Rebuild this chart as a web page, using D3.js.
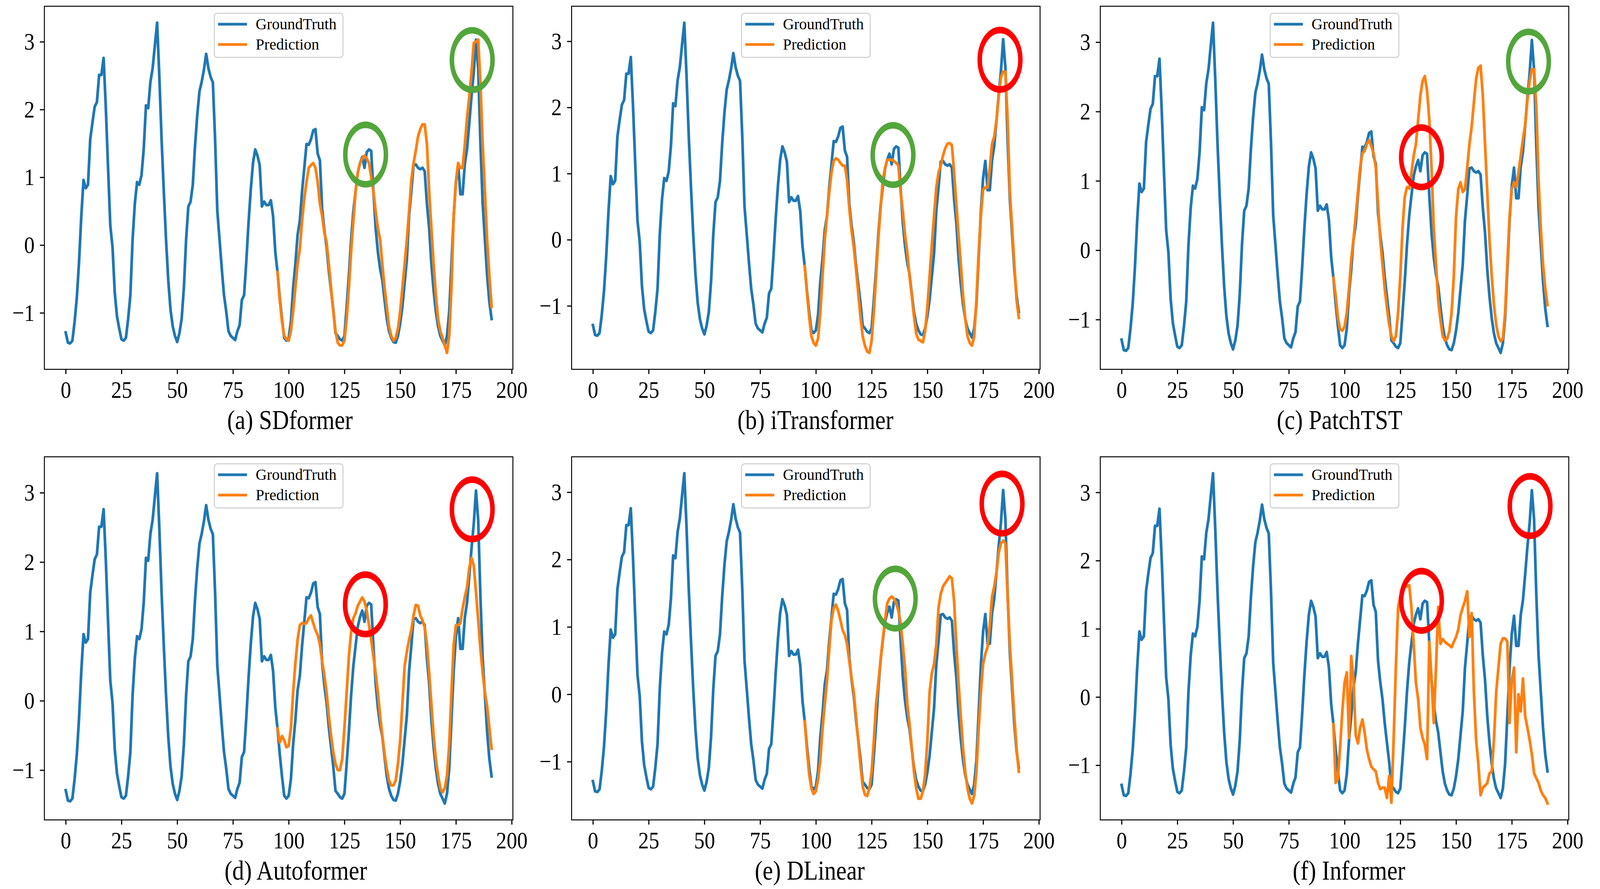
<!DOCTYPE html>
<html><head><meta charset="utf-8">
<script src="https://cdn.jsdelivr.net/npm/d3@7"></script>
<style>html,body{margin:0;padding:0;background:#fff;overflow:hidden}#c{display:block;width:100vw;height:100vh}</style>
</head><body><svg id="c" viewBox="0 0 4252 2277" preserveAspectRatio="none"></svg>
<script>
// ---------------- DATA ----------------
const groundTruth = [
-1.29,-1.44,-1.45,-1.41,-1.13,-0.77,-0.24,0.43,0.96,0.84,
0.89,1.56,1.81,2.04,2.11,2.51,2.51,2.76,2.02,1.14,
0.29,-0.03,-0.70,-1.05,-1.23,-1.39,-1.41,-1.37,-1.09,-0.74,
0.08,0.61,0.93,0.89,1.03,1.42,2.06,2.02,2.41,2.61,
2.95,3.28,2.48,1.56,0.79,0.08,-0.52,-0.95,-1.20,-1.34,
-1.43,-1.30,-1.09,-0.63,0.08,0.57,0.64,0.89,1.46,1.92,
2.27,2.41,2.59,2.82,2.61,2.48,2.40,1.56,0.50,0.08,
-0.35,-0.74,-0.98,-1.27,-1.34,-1.37,-1.40,-1.27,-1.18,-0.81,
-0.74,-0.24,0.33,0.82,1.21,1.41,1.32,1.18,0.57,0.64,
0.59,0.59,0.66,0.43,-0.10,-0.40,-0.77,-1.09,-1.37,-1.41,
-1.37,-1.13,-0.63,-0.28,0.15,0.36,0.79,1.14,1.49,1.48,
1.56,1.69,1.71,1.35,1.25,0.54,0.22,-0.03,-0.38,-0.67,
-0.95,-1.30,-1.34,-1.39,-1.41,-1.34,-0.91,-0.45,0.08,0.50,
0.79,1.07,1.21,1.30,1.14,1.37,1.41,1.39,0.79,0.25,
-0.10,-0.35,-0.52,-0.81,-1.09,-1.27,-1.37,-1.43,-1.44,-1.34,
-1.16,-0.91,-0.56,-0.21,0.43,0.79,1.18,1.19,1.14,1.12,
1.14,1.09,0.61,0.25,-0.28,-0.67,-0.98,-1.20,-1.34,-1.41,
-1.48,-1.34,-0.98,-0.28,0.43,0.93,1.19,0.75,0.75,1.20,
1.42,1.80,2.20,2.55,3.03,2.60,1.49,0.61,0.08,-0.45,
-0.84,-1.09
];

// predictions start at time step 95 (last input value) and run to 191
const predStart = 95;

const predSDformer = [
-0.40,-0.81,-1.13,-1.34,-1.39,
-1.41,-1.27,-0.98,-0.63,-0.28,-0.06,0.36,0.68,0.93,1.14,
1.18,1.21,1.14,0.93,0.61,0.43,0.18,0.04,-0.28,-0.63,
-0.98,-1.27,-1.44,-1.48,-1.48,-1.41,-1.09,-0.63,-0.10,0.36,
0.79,1.07,1.21,1.28,1.32,1.28,1.21,1.00,0.79,0.50,
0.25,0.08,-0.28,-0.63,-0.91,-1.20,-1.34,-1.41,-1.37,-1.23,
-0.98,-0.63,-0.28,0.08,0.50,0.96,1.21,1.39,1.60,1.71,
1.78,1.78,1.49,0.79,0.25,-0.28,-0.74,-1.09,-1.27,-1.37,
-1.48,-1.59,-1.34,-0.63,0.43,0.93,1.21,1.14,1.14,1.49,
1.88,2.20,2.56,2.98,3.00,3.03,2.38,1.49,0.79,0.08,
-0.45,-0.91
];

const predITransformer = [
-0.40,-0.80,-1.16,-1.46,-1.56,
-1.60,-1.49,-1.09,-0.55,0.00,0.36,0.72,1.01,1.19,1.23,
1.21,1.16,1.12,1.12,0.90,0.47,0.14,-0.11,-0.44,-0.80,
-1.16,-1.46,-1.60,-1.69,-1.71,-1.53,-1.09,-0.55,0.00,0.47,
0.90,1.08,1.21,1.21,1.21,1.19,1.16,1.12,0.72,0.43,
0.07,-0.19,-0.55,-0.84,-1.16,-1.42,-1.51,-1.53,-1.55,-1.38,
-1.02,-0.55,-0.08,0.36,0.79,1.01,1.12,1.27,1.38,1.45,
1.46,1.43,1.01,0.54,0.07,-0.37,-0.84,-1.20,-1.46,-1.56,
-1.60,-1.46,-0.91,-0.19,0.36,0.76,0.79,0.79,1.08,1.45,
1.56,1.81,2.17,2.46,2.54,2.54,1.81,0.72,0.18,-0.37,
-0.91,-1.18
];

const predPatchTST = [
-0.40,-0.65,-0.97,-1.14,-1.16,
-1.10,-0.90,-0.55,-0.13,0.15,0.49,0.84,1.19,1.40,1.43,
1.53,1.59,1.50,1.40,1.19,0.67,0.15,-0.20,-0.55,-0.83,
-1.07,-1.24,-1.31,-1.24,-0.90,-0.37,0.32,0.77,0.91,0.89,
1.12,1.36,1.53,1.88,2.23,2.44,2.51,2.30,1.88,1.19,
0.32,-0.20,-0.72,-1.00,-1.24,-1.30,-1.28,-1.17,-0.90,-0.37,
0.49,0.88,0.98,0.84,0.88,1.19,1.53,1.78,2.13,2.47,
2.63,2.66,2.23,1.53,0.84,0.15,-0.37,-0.79,-1.07,-1.24,
-1.31,-1.28,-0.90,-0.20,0.49,0.88,0.98,0.91,1.12,1.36,
1.60,1.81,2.16,2.44,2.61,2.61,2.06,1.01,0.32,-0.20,
-0.55,-0.79
];

const predAutoformer = [
-0.40,-0.60,-0.51,-0.57,-0.67,
-0.65,-0.39,0.12,0.54,0.88,1.09,1.12,1.11,1.12,1.19,
1.23,1.12,1.02,0.95,0.81,0.57,0.37,0.12,-0.22,-0.50,
-0.74,-0.91,-1.00,-1.00,-0.84,-0.39,0.12,0.64,0.99,1.19,
1.26,1.37,1.43,1.49,1.43,1.30,1.09,0.88,0.64,0.40,
0.12,-0.22,-0.50,-0.77,-0.98,-1.15,-1.22,-1.22,-1.15,-0.91,
-0.57,-0.05,0.50,0.71,0.88,1.02,1.23,1.38,1.37,1.23,
1.16,1.06,0.81,0.40,-0.05,-0.50,-0.84,-1.08,-1.26,-1.32,
-1.26,-1.08,-0.63,0.12,0.81,1.09,1.09,1.12,1.33,1.50,
1.64,1.92,2.06,1.95,1.57,1.16,0.74,0.40,0.12,-0.08,
-0.39,-0.69
];

const predDLinear = [
-0.40,-0.83,-1.19,-1.40,-1.48,
-1.44,-1.26,-0.98,-0.51,-0.15,0.20,0.67,1.10,1.28,1.33,
1.24,1.10,0.95,0.88,0.74,0.49,0.24,0.03,-0.33,-0.69,
-1.05,-1.37,-1.49,-1.51,-1.40,-1.15,-0.69,-0.15,0.17,0.49,
0.81,1.10,1.35,1.42,1.45,1.42,1.35,1.24,1.06,0.74,
0.38,-0.15,-0.44,-0.80,-1.15,-1.40,-1.55,-1.55,-1.44,-1.19,
-0.69,0.03,0.31,0.45,0.74,1.28,1.49,1.60,1.65,1.70,
1.75,1.72,1.38,0.74,0.17,-0.33,-0.80,-1.15,-1.40,-1.55,
-1.62,-1.51,-1.15,-0.51,0.03,0.45,0.60,0.70,1.03,1.45,
1.60,1.81,2.10,2.24,2.28,2.24,1.45,0.74,0.20,-0.33,
-0.80,-1.15
];

const predInformer = [
-0.40,-1.26,-1.20,-0.74,-0.21,
0.21,0.36,-0.60,0.60,0.25,-0.56,-0.68,-0.45,-0.33,-0.52,
-0.77,-0.91,-1.02,-1.06,-1.09,-1.26,-1.35,-1.33,-1.33,-1.48,
-1.16,-1.55,-0.63,0.43,1.31,1.48,1.55,1.62,1.62,1.64,
1.31,0.78,0.21,-0.03,-0.45,-0.60,-0.70,-0.91,0.81,0.25,
-0.38,0.43,1.32,0.78,0.85,0.81,0.78,0.76,0.73,0.81,
0.88,0.99,1.20,1.31,1.41,1.55,0.88,1.23,0.07,-0.63,
-0.98,-1.44,-1.33,-1.30,-1.26,-1.12,-1.09,-0.63,0.07,0.43,
0.78,0.86,0.86,0.81,-0.38,0.25,0.43,-0.81,0.04,-0.21,
0.27,-0.28,-0.45,-0.63,-0.84,-1.12,-1.19,-1.26,-1.37,-1.44,
-1.48,-1.56
];

const panelTitles = ["(a) SDformer","(b) iTransformer","(c) PatchTST","(d) Autoformer","(e) DLinear","(f) Informer"];
const panelPredictions = [predSDformer,predITransformer,predPatchTST,predAutoformer,predDLinear,predInformer];
const legendLabels = ["GroundTruth","Prediction"];
const xTicks = [0,25,50,75,100,125,150,175,200];
const yTicks = [-1,0,1,2,3];

// highlight circles: [time step, value, verdict]
const circlesA = [[134.5,1.335,"good"],[182.3,2.73,"good"]];
const circlesB = [[134.6,1.28,"good"],[182.6,2.72,"bad"]];
const circlesC = [[134.5,1.34,"bad"],[182.5,2.72,"good"]];
const circlesD = [[134.4,1.39,"bad"],[182.3,2.76,"bad"]];
const circlesE = [[135.6,1.42,"good"],[183.5,2.83,"bad"]];
const circlesF = [[134.5,1.41,"bad"],[183.2,2.80,"bad"]];
const panelCircles = [circlesA,circlesB,circlesC,circlesD,circlesE,circlesF];

// ---------------- LAYOUT / STYLE ----------------
const colLeft = [118, 1519, 2924];
const rowTop = [16, 1170];
const axW = 1245, axH = 930;
const captionX = [770.5, 2167, 3560, 786, 2152, 3585];
const captionOffset = 1083; // baseline below row top
const FONT = "'Liberation Serif','Times New Roman',serif";
const C_GT = "#1f77b4", C_PR = "#ff7f0e";
const C_GOOD = "#52a63a", C_BAD = "#ff0000";
const LW = 7.2;

const svg = d3.select("#c");
svg.append("rect").attr("width",4252).attr("height",2277).attr("fill","#fff");

panelPredictions.forEach((pred, p) => {
  const left = colLeft[p % 3], top = rowTop[Math.floor(p / 3)];
  const g = svg.append("g");

  const all = groundTruth.concat(pred);
  const lo = d3.min(all), hi = d3.max(all), pad = 0.05 * (hi - lo);
  const x = d3.scaleLinear().domain([-9.55, 200.55]).range([left, left + axW]);
  const y = d3.scaleLinear().domain([lo - pad, hi + pad]).range([top + axH, top]);

  // axes
  const xa = g.append("g").attr("transform", `translate(0,${top + axH})`)
    .call(d3.axisBottom(x).tickValues(xTicks).tickSize(12).tickPadding(17).tickFormat(d3.format("d")));
  const ya = g.append("g").attr("transform", `translate(${left},0)`)
    .call(d3.axisLeft(y).tickValues(yTicks).tickSize(12).tickPadding(14).tickFormat(d3.format("d")));
  [xa, ya].forEach(a => {
    a.select(".domain").remove();
    a.selectAll(".tick line").attr("stroke", "#000").attr("stroke-width", 3);
    a.selectAll(".tick text").attr("fill", "#000").style("font-family", FONT).style("font-size", "62px");
  });
  xa.selectAll(".tick text").attr("transform", "scale(0.9,1)");
  ya.selectAll(".tick text").attr("x", -26 / 0.9).attr("transform", "scale(0.9,1)");

  // lines
  const lineGT = d3.line().x((d, i) => x(i)).y(d => y(d));
  const linePR = d3.line().x((d, i) => x(predStart + i)).y(d => y(d));
  g.append("path").datum(groundTruth).attr("d", lineGT).attr("fill", "none")
    .attr("stroke", C_GT).attr("stroke-width", LW).attr("stroke-linejoin", "round").attr("stroke-linecap", "square");
  g.append("path").datum(pred).attr("d", linePR).attr("fill", "none")
    .attr("stroke", C_PR).attr("stroke-width", LW).attr("stroke-linejoin", "round").attr("stroke-linecap", "square");

  // frame
  g.append("rect").attr("x", left).attr("y", top).attr("width", axW).attr("height", axH)
    .attr("fill", "none").attr("stroke", "#000").attr("stroke-width", 2.5);

  // legend (upper center)
  const lg = g.append("g").attr("transform", `translate(${left + axW / 2 - 171},${top + 18})`);
  lg.append("rect").attr("width", 342).attr("height", 113).attr("rx", 8)
    .attr("fill", "#fff").attr("fill-opacity", 0.8).attr("stroke", "#cccccc").attr("stroke-width", 2.5);
  legendLabels.forEach((lab, k) => {
    lg.append("line").attr("x1", 10).attr("x2", 87).attr("y1", 28 + 52 * k).attr("y2", 28 + 52 * k)
      .attr("stroke", k === 0 ? C_GT : C_PR).attr("stroke-width", LW);
    lg.append("text").attr("x", 110).attr("y", 41 + 52 * k).text(lab)
      .style("font-family", FONT).style("font-size", "41px").attr("fill", "#000");
  });

  // highlight circles
  panelCircles[p].forEach(c => {
    g.append("g").attr("transform", `translate(${x(c[0])},${y(c[1])}) scale(1,1.41)`)
      .append("circle").attr("r", 54).attr("fill", "none")
      .attr("stroke", c[2] === "good" ? C_GOOD : C_BAD).attr("stroke-width", 12);
  });

  // caption
  svg.append("text").attr("transform", `translate(${captionX[p]},${top + captionOffset}) scale(0.89,1)`)
    .attr("text-anchor", "middle").text(panelTitles[p])
    .style("font-family", FONT).style("font-size", "70px").attr("fill", "#000");
});
</script></body></html>
